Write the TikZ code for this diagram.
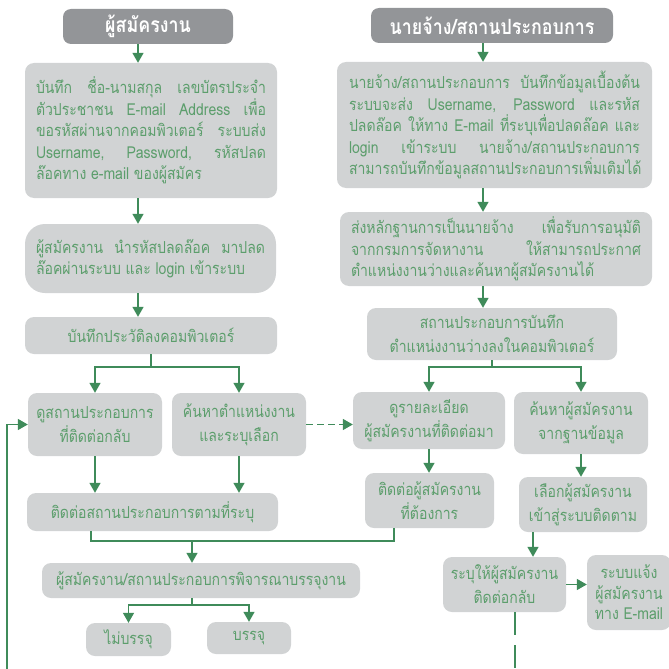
\documentclass[tikz,border=0pt]{standalone}
\usepackage{fontspec}
\newfontfamily\thaifont[Script=Thai, FakeStretch=0.85]{Loma}
\usepackage{tikz}
\usetikzlibrary{arrows.meta}
\definecolor{boxgray}{HTML}{D1D3D4}
\definecolor{headgray}{HTML}{939598}
\definecolor{flowgreen}{HTML}{3F8B5A}
\definecolor{txtgreen}{HTML}{5C9E6C}
\newcommand\tightlines{\lineskiplimit=-20pt\relax}

\begin{document}
\begin{tikzpicture}[x=1pt, y=-1pt,
      head/.style={rectangle, fill=headgray, rounded corners=8pt, text=white,
        inner sep=0pt, font=\thaifont\fontsize{21}{22}\selectfont\bfseries},
      box/.style={rectangle, fill=boxgray, rounded corners=9pt, text=txtgreen,
        inner sep=0pt, align=center, font=\thaifont\fontsize{16.5}{24}\selectfont},
      para/.style={box, align=justify, inner xsep=11pt,
        font=\thaifont\fontsize{16.5}{21.5}\selectfont\tightlines},
      arr/.style={-{Triangle[width=11pt,length=10pt]}, line width=1.5pt, color=flowgreen},
      conn/.style={line width=1.5pt, color=flowgreen}
    ]
      \useasboundingbox (0,0) rectangle (669,669);
      \node[head, minimum width=170pt, minimum height=35pt] (h1) at (148,26.5) {ผู้สมัครงาน};
      \node[head, minimum width=242pt, minimum height=35pt] (h2) at (492,25.5) {นายจ้าง/สถานประกอบการ};
      \node[para, text width=230pt, minimum height=135pt] (a1) at (151,130.5)
        {บันทึก ชื่อ-นามสกุล เลขบัตรประจำ\linebreak ตัวประชาชน E-mail Address เพื่อ\linebreak ขอรหัสผ่านจากคอมพิวเตอร์ ระบบส่ง\linebreak Username, Password, รหัสปลด\linebreak ล๊อคทาง e-mail ของผู้สมัคร};
      \node[para, rounded corners=20pt, text width=229pt, minimum height=69pt] (a2) at (150.5,258.5)
        {ผู้สมัครงาน นำรหัสปลดล๊อค มาปลด\linebreak ล๊อคผ่านระบบ และ login เข้าระบบ};
      \node[box, minimum width=252pt, minimum height=37pt] (a3) at (151,335.5) {บันทึกประวัติลงคอมพิวเตอร์};
      \node[box, minimum width=134pt, minimum height=63pt] (b1) at (95,424.5) {ดูสถานประกอบการ\\ที่ติดต่อกลับ};
      \node[box, minimum width=134pt, minimum height=63pt] (b2) at (239,424.5) {ค้นหาตำแหน่งงาน\\และระบุเลือก};
      \node[box, minimum width=251pt, minimum height=38pt] (d) at (152.5,512) {ติดต่อสถานประกอบการตามที่ระบุ};
      \node[box, minimum width=318pt, minimum height=35pt] (e) at (201,580.5) {ผู้สมัครงาน/สถานประกอบการพิจารณาบรรจุงาน};
      \node[box, minimum width=85pt, minimum height=33pt] (f1) at (128.5,639.5) {ไม่บรรจุ};
      \node[box, minimum width=84pt, minimum height=32pt] (f2) at (249,638) {บรรจุ};
      \node[para, inner xsep=12pt, text width=291pt, minimum height=126pt] (r1) at (494.5,125)
        {นายจ้าง/สถานประกอบการ บันทึกข้อมูลเบื้องต้น\linebreak ระบบจะส่ง Username, Password และรหัส\linebreak ปลดล๊อค ให้ทาง E-mail ที่ระบุเพื่อปลดล๊อค และ\linebreak login เข้าระบบ นายจ้าง/สถานประกอบการ\linebreak สามารถบันทึกข้อมูลสถานประกอบการเพิ่มเติมได้};
      \node[para, text width=290pt, minimum height=74pt] (r2) at (496,249)
        {ส่งหลักฐานการเป็นนายจ้าง เพื่อรับการอนุมัติ\linebreak จากกรมการจัดหางาน ให้สามารถประกาศ\linebreak ตำแหน่งงานว่างและค้นหาผู้สมัครงานได้};
      \node[box, minimum width=250pt, minimum height=52pt] (r3) at (492,334) {สถานประกอบการบันทึก\\ตำแหน่งงานว่างลงในคอมพิวเตอร์};
      \node[box, minimum width=152pt, minimum height=57pt] (c1) at (429,420.5) {ดูรายละเอียด\\ผู้สมัครงานที่ติดต่อมา};
      \node[box, minimum width=134pt, minimum height=62pt] (c3) at (581,423) {ค้นหาผู้สมัครงาน\\จากฐานข้อมูล};
      \node[box, minimum width=129pt, minimum height=55pt] (c2) at (429.5,500.5) {ติดต่อผู้สมัครงาน\\ที่ต้องการ};
      \node[box, minimum width=128pt, minimum height=55pt] (c4) at (583,504.5) {เลือกผู้สมัครงาน\\เข้าสู่ระบบติดตาม};
      \node[box, minimum width=123pt, minimum height=55pt] (g) at (504.5,584.5) {ระบุให้ผู้สมัครงาน\\ติดต่อกลับ};
      \node[box, font=\thaifont\fontsize{16.5}{20.5}\selectfont\tightlines, minimum width=84pt, minimum height=75pt] (h) at (629,592.5) {ระบบแจ้ง\\ผู้สมัครงาน\\ทาง E-mail};
      \coordinate (ax) at (138,0);
      \coordinate (rx) at (483,0);
      \coordinate (gx) at (533,0);
      \coordinate (m1) at (91,541);
      \coordinate (m2) at (394,541);
      \coordinate (m3) at (192,541);
      \coordinate (lb) at (7,669);
      \coordinate (gb) at (515,669);
      \draw[arr] (h1.south -| ax) -- (a1.north -| ax);
      \draw[arr] (a1.south -| ax) -- (a2.north -| ax);
      \draw[arr] (a2.south -| ax) -- (a3.north -| ax);
      \draw[conn] (a3.south) -- ++(0,13) coordinate (s1);
      \draw[arr] (s1) -| (b1.north); \draw[arr] (s1) -| (b2.north);
      \draw[arr, dash pattern=on 7pt off 4pt] (b2.east) -- (c1.west |- b2.east);
      \draw[arr] (b1.south) -- (d.north -| b1.south);
      \draw[arr] (b2.south) -- (d.north -| b2.south);
      \draw[conn] (d.south -| m1) -- (m1) -- (m2) -- (c2.south -| m2);
      \draw[arr] (m3) -- (e.north -| m3);
      \draw[conn] (e.south -| m3) -- ++(0,7) coordinate (s2);
      \draw[arr] (s2) -| (f1.north); \draw[arr] (s2) -| (f2.north);
      \draw[arr] (lb) |- (b1.west);
      \draw[arr] (h2.south -| rx) -- (r1.north -| rx);
      \draw[arr] (r1.south -| rx) -- (r2.north -| rx);
      \draw[arr] (r2.south -| rx) -- (r3.north -| rx);
      \draw[conn] (r3.south) -- ++(0,7) coordinate (s3);
      \draw[arr] (s3) -| (c1.north); \draw[arr] (s3) -| (c3.north);
      \draw[arr] (c1.south) -- (c2.north -| c1.south);
      \draw[arr] (c3.south) -- (c4.north -| c3.south);
      \draw[arr] (c4.south -| gx) -- (g.north -| gx);
      \draw[arr] (g.east) -- (h.west |- g.east);
      \draw[conn, dash pattern=on 23pt off 10pt] (g.south -| gb) -- (gb);
    \end{tikzpicture}
\end{document}
